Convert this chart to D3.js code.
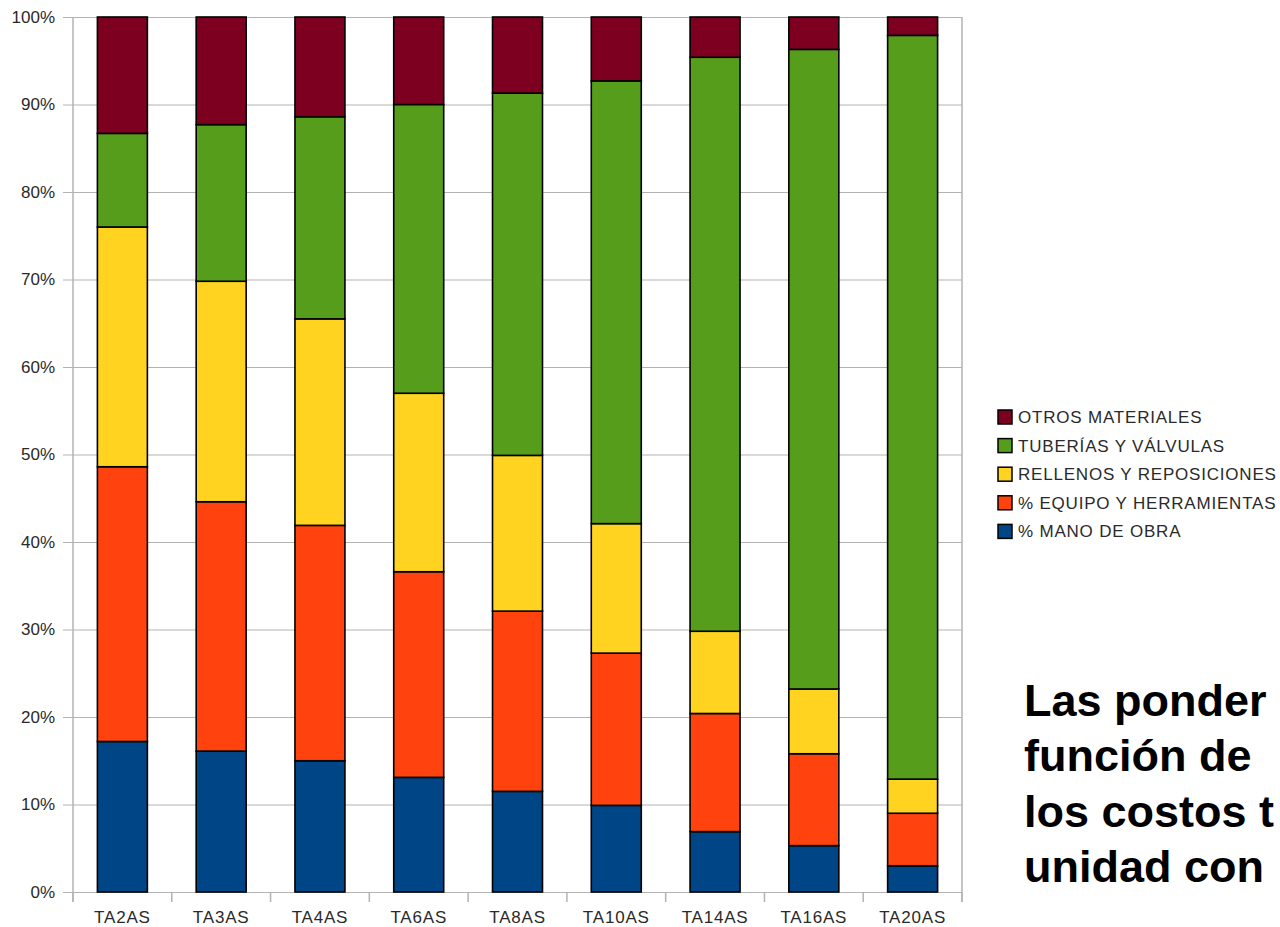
<!DOCTYPE html>
<html>
<head>
<meta charset="utf-8">
<script src="https://cdn.jsdelivr.net/npm/d3@7"></script>
<style>
  html, body { margin: 0; padding: 0; background: #ffffff; overflow: hidden; }
  svg { display: block; }
</style>
</head>
<body>
<svg id="chart" width="1280" height="927"></svg>
<script>
// ---- data ----
const categories = ["TA2AS","TA3AS","TA4AS","TA6AS","TA8AS","TA10AS","TA14AS","TA16AS","TA20AS"];
const manoObra  = [17.2, 16.1, 15.0, 13.1, 11.5, 9.9, 6.9, 5.3, 3.0];
const equipo    = [31.4, 28.5, 26.9, 23.5, 20.6, 17.4, 13.5, 10.5, 6.0];
const rellenos  = [27.4, 25.2, 23.6, 20.4, 17.8, 14.8, 9.4, 7.4, 3.9];
const tuberias  = [10.7, 17.9, 23.1, 33.0, 41.4, 50.6, 65.6, 73.1, 85.0];
const otros     = [13.3, 12.3, 11.4, 10.0, 8.7, 7.3, 4.6, 3.7, 2.1];
const seriesNames = ["% MANO DE OBRA", "% EQUIPO Y HERRAMIENTAS", "RELLENOS Y REPOSICIONES", "TUBERÍAS Y VÁLVULAS", "OTROS MATERIALES"];
const yTicks = [0,10,20,30,40,50,60,70,80,90,100];
const noteLines = ["Las ponder", "función de", "los costos t", "unidad con"];

// ---- styling ----
const colors = ["#004586", "#ff420e", "#ffd320", "#579d1c", "#7e0021"];
const gridColor = "#b3b3b3";
const textColor = "#2a2a2a";
const fontFamily = "'Liberation Sans', Arial, sans-serif";

const svg = d3.select("#chart");
const plotLeft = 73, plotRight = 962, plotTop = 17, plotBottom = 892;

const seriesArrays = [manoObra, equipo, rellenos, tuberias, otros];
const table = categories.map((c, i) => {
  const row = { cat: c };
  seriesNames.forEach((s, k) => row[s] = seriesArrays[k][i]);
  return row;
});
const stacked = d3.stack().keys(seriesNames)(table);

const x = d3.scaleBand().domain(categories).range([plotLeft, plotRight]).paddingInner(0.494).paddingOuter(0.247);
const y = d3.scaleLinear().domain([0, 100]).range([plotBottom, plotTop]);

// grid + y axis
const yAxis = d3.axisLeft(y).tickValues(yTicks).tickFormat(d => d + "%")
  .tickSizeInner(-(plotRight - 63)).tickSizeOuter(0).tickPadding(8);
const gy = svg.append("g").attr("transform", "translate(63,0)").call(yAxis);
gy.select(".domain").remove();
gy.selectAll(".tick line").attr("stroke", gridColor).attr("stroke-width", 1.2);
gy.selectAll(".tick text").attr("fill", textColor).attr("font-size", 17).attr("font-family", fontFamily);

// vertical axis line and right border
svg.append("line").attr("x1", plotLeft).attr("x2", plotLeft).attr("y1", plotTop).attr("y2", plotBottom + 10)
  .attr("stroke", gridColor).attr("stroke-width", 1.5);
svg.append("line").attr("x1", plotRight).attr("x2", plotRight).attr("y1", plotTop).attr("y2", plotBottom + 10)
  .attr("stroke", gridColor).attr("stroke-width", 1.5);

// category boundary ticks
const boundaries = d3.range(categories.length + 1).map(i => x.range()[0] + i * x.step());
svg.append("g").selectAll("line").data(boundaries).join("line")
  .attr("x1", d => d).attr("x2", d => d).attr("y1", plotBottom).attr("y2", plotBottom + 10)
  .attr("stroke", gridColor).attr("stroke-width", 1.5);

// x labels
svg.append("g").selectAll("text").data(categories).join("text")
  .attr("x", d => x(d) + x.bandwidth() / 2).attr("y", 923)
  .attr("text-anchor", "middle").attr("fill", textColor).attr("letter-spacing", 0.8)
  .attr("font-size", 17).attr("font-family", fontFamily).text(d => d);

// bars
svg.append("g").selectAll("g").data(stacked).join("g")
  .attr("fill", (d, i) => colors[i])
  .selectAll("rect").data(d => d).join("rect")
  .attr("x", d => x(d.data.cat))
  .attr("width", x.bandwidth())
  .attr("y", d => y(d[1]))
  .attr("height", d => y(d[0]) - y(d[1]))
  .attr("stroke", "#000").attr("stroke-width", 1.6);

// legend
const legendOrder = [4, 3, 2, 1, 0];
const lg = svg.append("g").selectAll("g").data(legendOrder).join("g")
  .attr("transform", (d, i) => `translate(998, ${417 + i * 28.6})`);
lg.append("rect").attr("x", 0).attr("y", -7).attr("width", 14).attr("height", 14)
  .attr("fill", d => colors[d]).attr("stroke", "#000").attr("stroke-width", 1.5);
lg.append("text").attr("x", 20).attr("y", 6).attr("fill", textColor).attr("letter-spacing", 0.8)
  .attr("font-size", 17).attr("font-family", fontFamily).text(d => seriesNames[d]);

// note text (as visible in the reference, cut at the right edge)
svg.append("g").selectAll("text").data(noteLines).join("text")
  .attr("x", 1024).attr("y", (d, i) => 716 + i * 55.3)
  .attr("font-size", 45).attr("font-weight", "bold").attr("fill", "#000")
  .attr("font-family", fontFamily).text(d => d);
</script>
</body>
</html>
